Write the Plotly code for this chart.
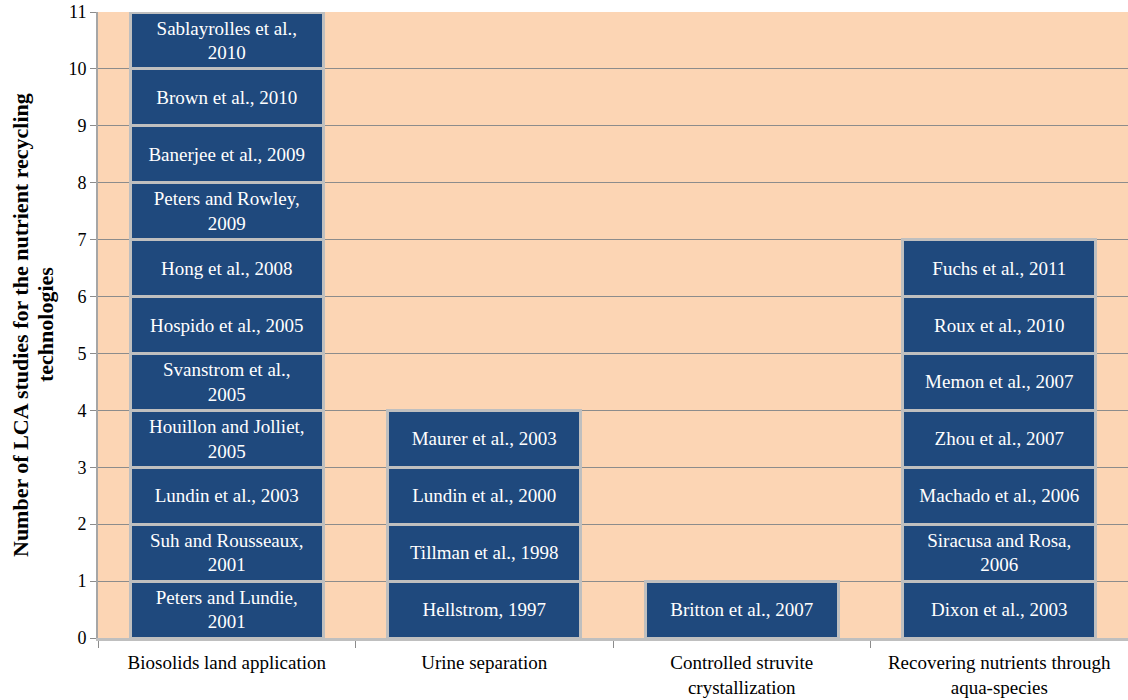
import plotly.graph_objects as go

categories = [
    "Biosolids land application",
    "Urine separation",
    "Controlled struvite<br>crystallization",
    "Recovering nutrients through<br>aqua-species",
]

# studies per category, bottom to top (each counts as 1 study)
biosolids = [
    "Peters and Lundie,<br>2001",
    "Suh and Rousseaux,<br>2001",
    "Lundin et al., 2003",
    "Houillon and Jolliet,<br>2005",
    "Svanstrom et al.,<br>2005",
    "Hospido et al., 2005",
    "Hong et al., 2008",
    "Peters and Rowley,<br>2009",
    "Banerjee et al., 2009",
    "Brown et al., 2010",
    "Sablayrolles et al.,<br>2010",
]
urine = [
    "Hellstrom, 1997",
    "Tillman et al., 1998",
    "Lundin et al., 2000",
    "Maurer et al., 2003",
]
struvite = [
    "Britton et al., 2007",
]
aqua = [
    "Dixon et al., 2003",
    "Siracusa and Rosa,<br>2006",
    "Machado et al., 2006",
    "Zhou et al., 2007",
    "Memon et al., 2007",
    "Roux et al., 2010",
    "Fuchs et al., 2011",
]
study_count = 1
y_ticks = list(range(0, 12))
y_title_lines = [
    "Number of LCA studies for the nutrient recycling",
    "technologies",
]

groups = [biosolids, urine, struvite, aqua]
max_level = max(len(g) for g in groups)

fig = go.Figure()
for level in range(max_level):
    xs, ys, texts = [], [], []
    for cat, g in zip(categories, groups):
        if level < len(g):
            xs.append(cat)
            ys.append(study_count)
            texts.append(g[level])
    fig.add_trace(go.Bar(
        x=xs, y=ys, text=texts,
        texttemplate="%{text}",
        textposition="inside",
        insidetextanchor="middle",
        textangle=0,
        textfont=dict(color="white", size=19, family="Liberation Serif"),
        marker=dict(color="#1F497D", line=dict(color="#BFBFBF", width=3)),
        width=0.75,
        showlegend=False,
        hoverinfo="skip",
    ))

fig.update_layout(
    barmode="stack",
    width=1128, height=700,
    margin=dict(l=98, r=0, t=12, b=62),
    paper_bgcolor="white",
    plot_bgcolor="#FCD5B4",
    font=dict(family="Liberation Serif", color="black", size=19),
    uniformtext=dict(minsize=16, mode="show"),
)
for i, line in enumerate(y_title_lines):
    fig.add_annotation(
        text="<b>" + line + "</b>",
        xref="paper", yref="paper",
        x=0, y=0.5, xanchor="center", yanchor="middle",
        xshift=-78 + 25 * i,
        textangle=-90, showarrow=False,
        font=dict(size=22, family="Liberation Serif", color="black"),
    )
fig.update_yaxes(
    range=[0, 11],
    tickvals=y_ticks,
    ticks="outside", ticklen=6, tickcolor="#8C8C8C",
    showgrid=True, gridcolor="#8C8C8C", gridwidth=1,
    showline=True, linecolor="#A6A6A6", linewidth=2,
    zeroline=False,
    tickfont=dict(size=18, family="Liberation Serif"),
)
fig.update_xaxes(
    tickson="boundaries",
    ticks="outside", ticklen=7, tickcolor="#8C8C8C",
    showline=True, linecolor="#BFBFBF", linewidth=3,
    ticklabelstandoff=5,
    tickfont=dict(size=19, family="Liberation Serif"),
)

fig.write_html(
    "out.html",
    config={"displayModeBar": False},
    post_script="document.body.style.margin='0';",
)
